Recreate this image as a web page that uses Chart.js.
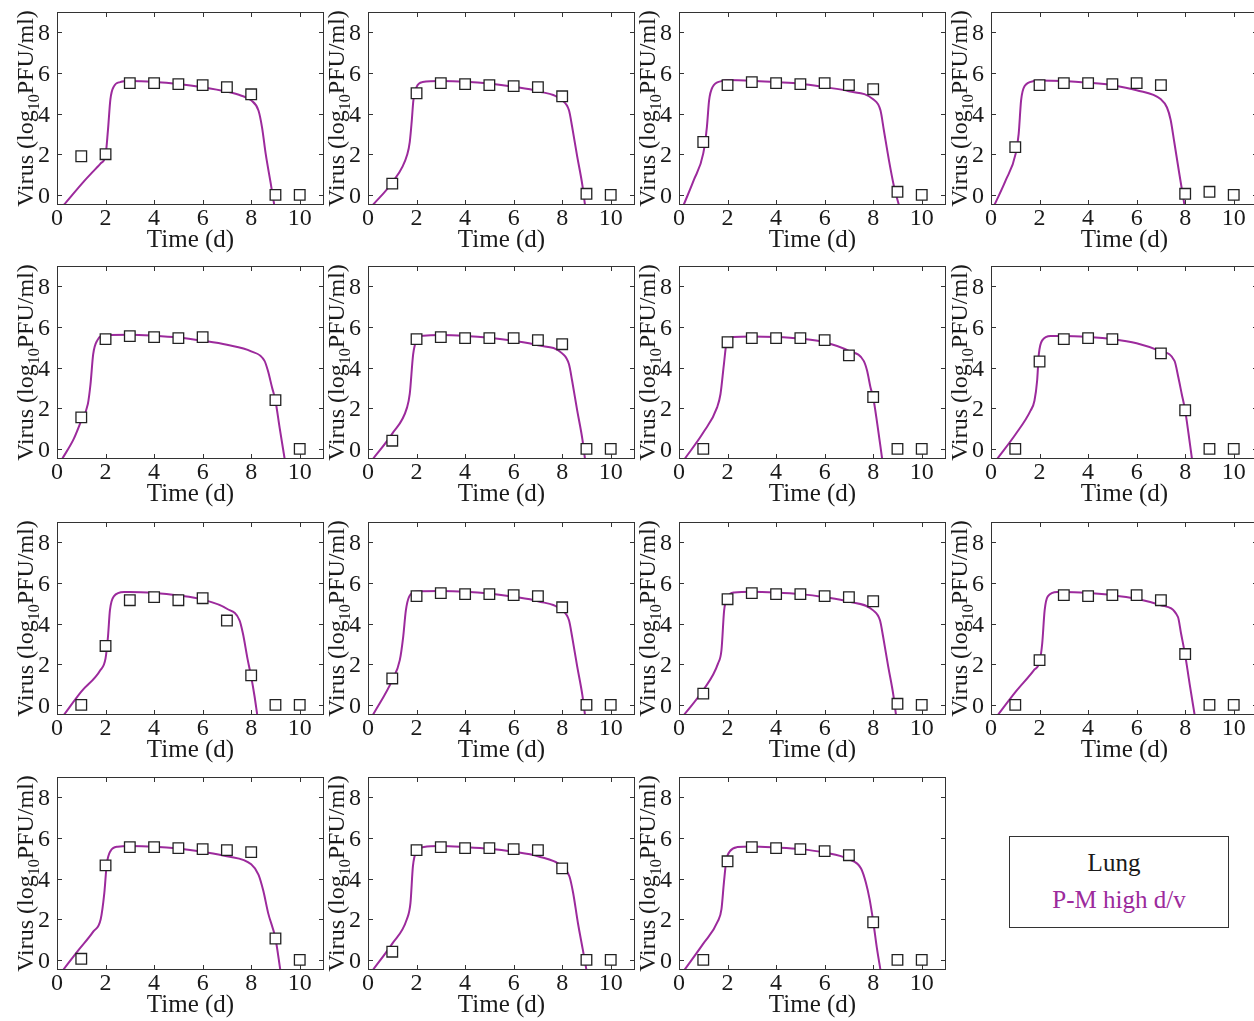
<!DOCTYPE html>
<html>
<head>
<meta charset="utf-8">
<title>Lung virus titers, P-M high d/v fits</title>
<script src="https://cdn.jsdelivr.net/npm/chart.js@4.4.1/dist/chart.umd.min.js"></script>
<style>
  html, body { margin: 0; padding: 0; background: #fff; }
  body { position: relative; width: 1254px; height: 1021px; overflow: hidden; }
  canvas.panel { position: absolute; }
  #legendBox {
    position: absolute; left: 1009px; top: 836px; width: 218px; height: 90px;
    border: 1px solid #333; font-family: "Liberation Serif", serif; font-size: 25px;
  }
  #legendBox div { position: absolute; left: 0; width: 100%; text-align: center; line-height: 28px; }
</style>
</head>
<body>
<div id="legendBox">
  <div style="top: 12px; left: -5px; color: #1a1a1a;">Lung</div>
  <div style="top: 49px; color: #9c2a9c;">P-M high d/v</div>
</div>
<script>
// ---------- Data ----------
const days = [1, 2, 3, 4, 5, 6, 7, 8, 9, 10];
const xTicks = [0, 2, 4, 6, 8, 10];
const yTicks = [0, 2, 4, 6, 8];

// measured lung titers per animal (null = no sample)
const titers = [
  [1.9, 2.0, 5.5, 5.5, 5.45, 5.4, 5.3, 4.95, 0, 0],
  [0.55, 5.0, 5.5, 5.45, 5.4, 5.35, 5.3, 4.85, 0.05, 0],
  [2.6, 5.4, 5.55, 5.5, 5.45, 5.5, 5.4, 5.2, 0.15, 0],
  [2.35, 5.4, 5.5, 5.5, 5.45, 5.5, 5.4, 0.05, 0.15, 0],
  [1.55, 5.4, 5.55, 5.5, 5.45, 5.5, null, null, 2.4, 0],
  [0.4, 5.4, 5.5, 5.45, 5.45, 5.45, 5.35, 5.15, 0, 0],
  [0, 5.25, 5.45, 5.45, 5.45, 5.35, 4.6, 2.55, 0, 0],
  [0, 4.3, 5.4, 5.45, 5.4, null, 4.7, 1.9, 0, 0],
  [0, 2.9, 5.15, 5.3, 5.15, 5.25, 4.15, 1.45, 0, 0],
  [1.3, 5.35, 5.5, 5.45, 5.45, 5.4, 5.35, 4.8, 0, 0],
  [0.55, 5.2, 5.5, 5.45, 5.45, 5.35, 5.3, 5.1, 0.05, 0],
  [0, 2.2, 5.4, 5.35, 5.4, 5.4, 5.15, 2.5, 0, 0],
  [0.05, 4.65, 5.55, 5.55, 5.5, 5.45, 5.4, 5.3, 1.05, 0],
  [0.4, 5.4, 5.55, 5.5, 5.5, 5.45, 5.4, 4.5, 0, 0],
  [0, 4.85, 5.55, 5.5, 5.45, 5.35, 5.15, 1.85, 0, 0]
];

// model fit curves, [day, log10 titer]
const fitCurves = [
  [[0.28,-0.5],[1.1,0.65],[1.8,1.55],[2.0,1.95],[2.1,3.2],[2.2,4.7],[2.35,5.35],[2.6,5.55],[3,5.6],[4,5.56],[5,5.46],[6,5.3],[7,5.08],[7.6,4.88],[8,4.65],[8.3,4.15],[8.45,3.3],[8.6,2.0],[8.8,0.6],[8.95,-0.5]],
  [[0.2,-0.5],[1.0,0.62],[1.62,2.0],[1.72,2.6],[1.8,3.6],[1.87,4.65],[2.0,5.3],[2.25,5.55],[3,5.6],[4,5.57],[5,5.48],[6,5.32],[7,5.1],[8,4.65],[8.28,4.16],[8.41,3.35],[8.62,1.88],[8.83,0.49],[8.94,-0.5]],
  [[0.19,-0.5],[0.6,0.7],[1.0,2.04],[1.15,3.35],[1.24,4.65],[1.38,5.3],[1.75,5.6],[2,5.65],[3,5.62],[4,5.55],[5,5.47],[6,5.3],[7,5.1],[8,4.7],[8.3,4.16],[8.44,3.18],[8.65,1.7],[8.86,0.4],[9.06,-0.5]],
  [[0.14,-0.5],[0.6,0.7],[1.02,2.04],[1.14,3.0],[1.24,4.65],[1.38,5.34],[1.77,5.6],[2,5.63],[3,5.6],[4,5.52],[5,5.4],[6,5.15],[7,4.7],[7.25,4.3],[7.4,3.7],[7.55,2.6],[7.75,1.1],[7.97,-0.5]],
  [[0.21,-0.5],[0.69,0.49],[1.0,1.39],[1.27,2.2],[1.38,3.18],[1.49,4.65],[1.66,5.34],[2.0,5.6],[3,5.62],[4,5.57],[5,5.48],[6,5.32],[7,5.12],[8,4.8],[8.55,4.33],[8.69,3.84],[8.86,3.02],[9.0,2.37],[9.17,1.06],[9.38,-0.5]],
  [[0.2,-0.5],[1.0,0.75],[1.61,2.04],[1.72,2.7],[1.86,4.65],[2.0,5.34],[2.28,5.57],[3,5.6],[4,5.56],[5,5.47],[6,5.32],[7,5.1],[8,4.7],[8.28,4.16],[8.41,3.35],[8.62,1.88],[8.83,0.49],[8.94,-0.5]],
  [[0.23,-0.5],[1.0,0.8],[1.57,2.04],[1.71,2.7],[1.85,4.16],[1.96,5.22],[2.23,5.5],[3,5.53],[4,5.5],[5,5.42],[6,5.25],[7,4.82],[7.61,4.33],[7.75,3.84],[7.89,3.02],[8.0,2.53],[8.17,1.22],[8.37,-0.5]],
  [[0.25,-0.5],[1.02,0.73],[1.63,1.88],[1.79,2.37],[1.9,3.35],[1.97,4.65],[2.11,5.34],[2.46,5.55],[3,5.55],[4,5.5],[5,5.4],[6,5.2],[7,4.8],[7.56,4.33],[7.72,3.51],[7.86,2.69],[8.0,1.88],[8.14,0.73],[8.28,-0.5]],
  [[0.28,-0.5],[1.0,0.65],[1.79,1.71],[2.0,2.29],[2.1,3.35],[2.18,4.65],[2.34,5.34],[2.76,5.55],[3,5.55],[4,5.5],[5,5.38],[6,5.18],[7,4.73],[7.52,4.16],[7.66,3.51],[7.86,2.2],[8.0,1.39],[8.14,0.41],[8.25,-0.5]],
  [[0.2,-0.5],[1.0,1.22],[1.31,2.2],[1.45,3.35],[1.56,4.65],[1.7,5.34],[2.0,5.58],[3,5.6],[4,5.57],[5,5.48],[6,5.32],[7,5.1],[8,4.65],[8.28,4.16],[8.41,3.35],[8.62,1.88],[8.83,0.49],[8.94,-0.5]],
  [[0.2,-0.5],[1.0,0.73],[1.61,2.04],[1.75,2.7],[1.86,4.65],[2.0,5.3],[2.28,5.53],[3,5.57],[4,5.53],[5,5.45],[6,5.3],[7,5.08],[8,4.65],[8.28,4.16],[8.41,3.35],[8.62,1.88],[8.83,0.49],[8.94,-0.5]],
  [[0.28,-0.5],[1.02,0.65],[1.77,1.71],[2.0,2.12],[2.11,3.02],[2.21,4.65],[2.34,5.34],[2.73,5.55],[3,5.55],[4,5.5],[5,5.4],[6,5.22],[7,4.9],[7.7,4.33],[7.83,3.51],[8.0,2.45],[8.18,1.06],[8.39,-0.5]],
  [[0.25,-0.5],[0.9,0.5],[1.5,1.4],[1.8,2.0],[1.95,3.3],[2.05,4.7],[2.2,5.35],[2.5,5.57],[3,5.6],[4,5.57],[5,5.48],[6,5.32],[7,5.1],[8,4.7],[8.3,4.2],[8.5,3.4],[8.7,2.3],[9.0,1.05],[9.2,-0.5]],
  [[0.2,-0.5],[1.0,0.8],[1.6,2.0],[1.75,2.8],[1.85,4.6],[2.0,5.35],[2.3,5.55],[3,5.6],[4,5.55],[5,5.47],[6,5.32],[7,5.1],[8,4.6],[8.3,4.1],[8.45,3.3],[8.65,1.8],[8.85,0.5],[9.0,-0.5]],
  [[0.22,-0.5],[1.0,0.8],[1.6,1.9],[1.75,2.5],[1.85,3.8],[1.95,4.9],[2.1,5.35],[2.4,5.55],[3,5.58],[4,5.53],[5,5.45],[6,5.28],[7,4.95],[7.5,4.5],[7.7,3.8],[7.85,3.0],[8.0,1.9],[8.15,0.6],[8.3,-0.5]]
];

// ---------- Layout / style ----------
const FIT_COLOR = "#9c2a9c";
const AXIS_COLOR = "#333";
const TEXT_COLOR = "#1a1a1a";
const FONT = '"Liberation Serif", "Times New Roman", serif';
const colLeft = [0, 311, 622, 934];
const rowTop = [0, 254, 510, 765];
const CANVAS_W = 328, CANVAS_H = 255;
const TICK_LEN = 5;

// frame, inward ticks, tick labels and axis titles for one panel
const panelFrame = {
  id: "panelFrame",
  afterDraw(chart) {
    const { ctx, chartArea: a, scales: { x, y } } = chart;
    ctx.save();
    ctx.strokeStyle = AXIS_COLOR;
    ctx.lineWidth = 1;
    ctx.strokeRect(a.left + 0.5, a.top + 0.5, a.right - a.left - 1, a.bottom - a.top - 1);

    ctx.beginPath();
    xTicks.forEach(v => {
      const px = Math.round(x.getPixelForValue(v)) + 0.5;
      ctx.moveTo(px, a.bottom); ctx.lineTo(px, a.bottom - TICK_LEN);
      ctx.moveTo(px, a.top); ctx.lineTo(px, a.top + TICK_LEN);
    });
    yTicks.forEach(v => {
      const py = Math.round(y.getPixelForValue(v)) + 0.5;
      ctx.moveTo(a.left, py); ctx.lineTo(a.left + TICK_LEN, py);
      ctx.moveTo(a.right, py); ctx.lineTo(a.right - TICK_LEN, py);
    });
    ctx.stroke();

    ctx.fillStyle = TEXT_COLOR;
    ctx.font = "24px " + FONT;
    ctx.textBaseline = "alphabetic";
    ctx.textAlign = "center";
    xTicks.forEach(v => ctx.fillText(String(v), x.getPixelForValue(v), a.bottom + 20));
    ctx.textAlign = "right";
    yTicks.forEach(v => ctx.fillText(String(v), a.left - 7, y.getPixelForValue(v) + 8));

    // x title
    ctx.font = "25px " + FONT;
    ctx.textAlign = "center";
    ctx.fillText("Time (d)", (a.left + a.right) / 2, a.bottom + 42);

    // y title: Virus (log10PFU/ml) with subscript 10
    const main = "24px " + FONT, sub = "16px " + FONT;
    const parts = [["Virus (log", main, 0], ["10", sub, 6], ["PFU/ml)", main, 0]];
    let total = 0;
    parts.forEach(p => { ctx.font = p[1]; total += ctx.measureText(p[0]).width; });
    ctx.translate(33, (a.top + a.bottom) / 2);
    ctx.rotate(-Math.PI / 2);
    ctx.textAlign = "left";
    let cx = -total / 2;
    parts.forEach(p => {
      ctx.font = p[1];
      ctx.fillText(p[0], cx, p[2]);
      cx += ctx.measureText(p[0]).width;
    });
    ctx.restore();
  }
};

// ---------- Panels ----------
titers.forEach((row, i) => {
  const canvas = document.createElement("canvas");
  canvas.className = "panel";
  canvas.width = CANVAS_W;
  canvas.height = CANVAS_H;
  canvas.style.left = colLeft[i % 4] + "px";
  canvas.style.top = rowTop[Math.floor(i / 4)] + "px";
  document.body.appendChild(canvas);

  new Chart(canvas, {
    type: "scatter",
    data: {
      datasets: [
        {
          label: "Lung",
          data: days.map((d, k) => ({ x: d, y: row[k] })),
          pointStyle: "rect",
          pointRadius: 7.5,
          pointBackgroundColor: "#fff",
          pointBorderColor: "#222",
          pointBorderWidth: 1.3,
          order: 0,
        },
        {
          label: "P-M high d/v",
          data: fitCurves[i].map(p => ({ x: p[0], y: p[1] })),
          showLine: true,
          borderColor: FIT_COLOR,
          borderWidth: 2,
          pointRadius: 0,
          cubicInterpolationMode: "monotone",
          order: 1,
        },
      ],
    },
    options: {
      responsive: false,
      animation: false,
      events: [],
      layout: { autoPadding: false, padding: { left: 57, top: 12, right: 4, bottom: 50 } },
      plugins: { legend: { display: false }, tooltip: { enabled: false } },
      scales: {
        x: { type: "linear", min: 0, max: 11, display: false },
        y: { type: "linear", min: -0.5, max: 9, display: false },
      },
    },
    plugins: [panelFrame],
  });
});
</script>
</body>
</html>
